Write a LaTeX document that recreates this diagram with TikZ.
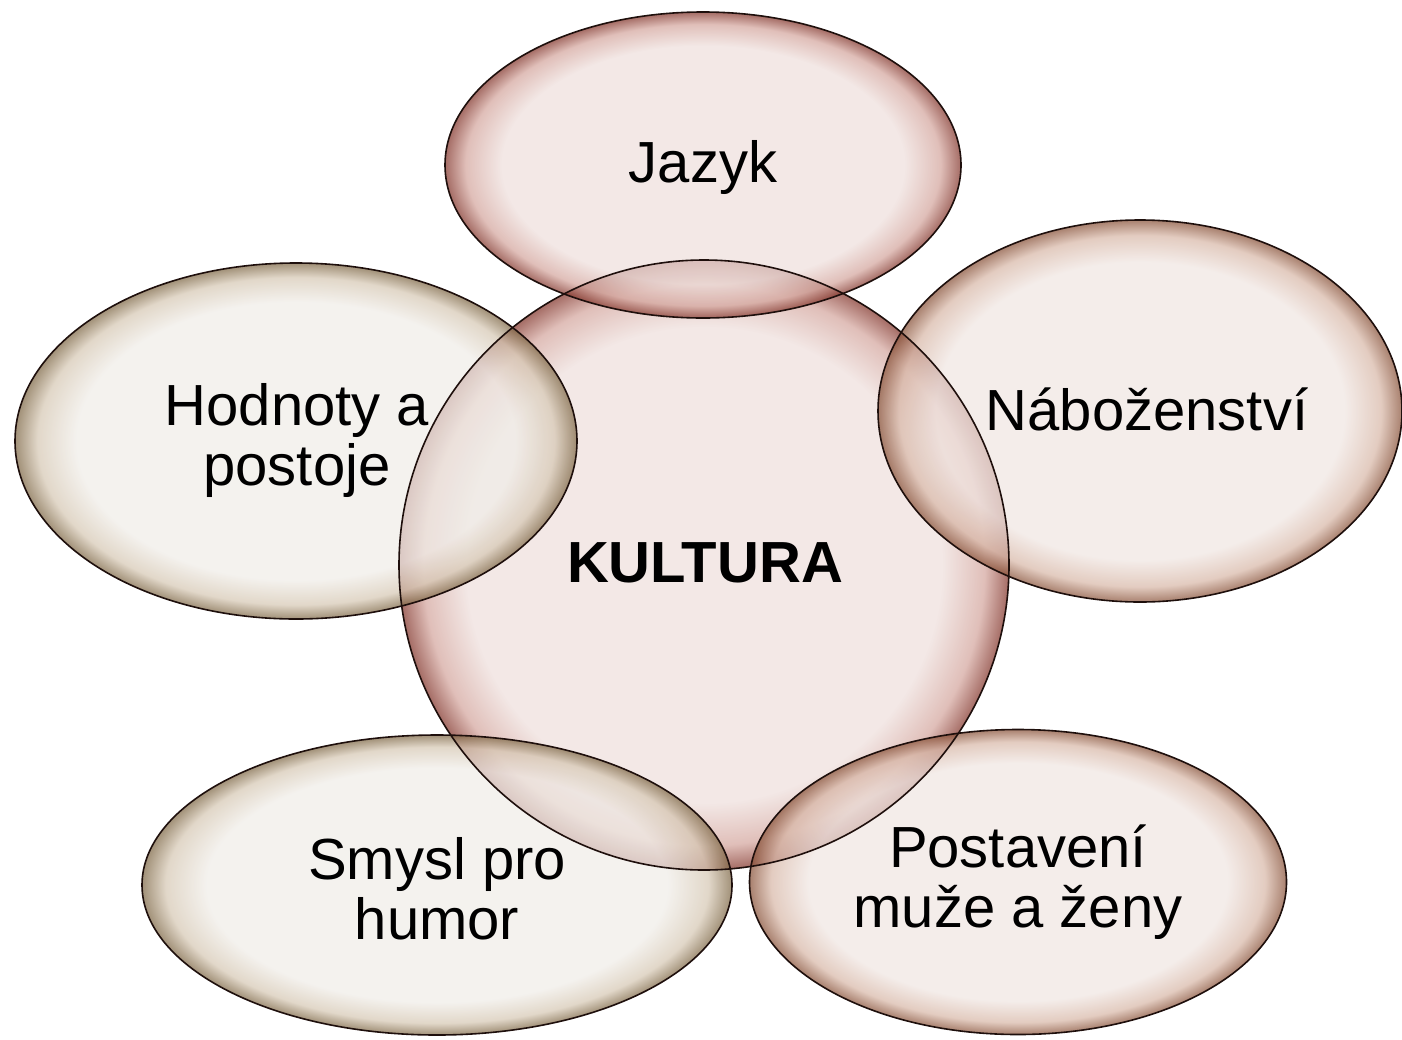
\documentclass[tikz,border=0pt]{standalone}
\usepackage{fontspec}
\setmainfont{Liberation Sans}
\usetikzlibrary{shapes.geometric}
\definecolor{redin}{RGB}{238,223,220}
\definecolor{redmid}{RGB}{212,166,158}
\definecolor{redrim}{RGB}{130,52,42}
\definecolor{tanin}{RGB}{240,230,226}
\definecolor{tanmid}{RGB}{216,184,168}
\definecolor{tanrim}{RGB}{135,80,55}
\definecolor{beigein}{RGB}{240,237,232}
\definecolor{beigemid}{RGB}{214,200,180}
\definecolor{beigerim}{RGB}{125,102,68}
\definecolor{edgeline}{RGB}{30,15,12}
\pgfdeclareradialshading{redglow}{\pgfpoint{0bp}{0bp}}{color(0bp)=(redin); color(19.5bp)=(redin); color(23bp)=(redmid); color(25bp)=(redrim); color(50bp)=(redrim)}
\pgfdeclareradialshading{tanglow}{\pgfpoint{0bp}{0bp}}{color(0bp)=(tanin); color(19.5bp)=(tanin); color(23bp)=(tanmid); color(25bp)=(tanrim); color(50bp)=(tanrim)}
\pgfdeclareradialshading{beigeglow}{\pgfpoint{0bp}{0bp}}{color(0bp)=(beigein); color(19.5bp)=(beigein); color(23bp)=(beigemid); color(25bp)=(beigerim); color(50bp)=(beigerim)}
\tikzset{
  blob/.style={ellipse, inner sep=0pt, fill opacity=0.72, shade},
  redblob/.style={blob, shading=redglow},
  tanblob/.style={blob, shading=tanglow},
  beigeblob/.style={blob, shading=beigeglow},
  rim/.style={ellipse, inner sep=0pt, draw=edgeline, line width=0.8pt},
  kultsize/.style={minimum width=305pt, minimum height=305pt},
  jazsize/.style={minimum width=258pt, minimum height=153pt},
  nabsize/.style={minimum width=262pt, minimum height=191pt},
  postsize/.style={minimum width=268.5pt, minimum height=152.5pt},
  smyslsize/.style={minimum width=295pt, minimum height=150pt},
  hodnsize/.style={minimum width=281pt, minimum height=178pt},
  lbl/.style={font=\fontsize{29}{30}\selectfont, align=center, text=black, inner sep=0pt},
}
\begin{document}
\begin{tikzpicture}[x=0.5pt,y=-0.5pt]
\useasboundingbox (0,0) rectangle (1402,1039);
% fills
\node[redblob, kultsize] (kultura) at (704,565) {};
\node[redblob, jazsize] (jazyk) at (703,165) {};
\node[tanblob, nabsize] (nab) at (1140,411) {};
\node[tanblob, postsize] (post) at (1018,882) {};
\node[beigeblob, smyslsize] (smysl) at (437,885) {};
\node[beigeblob, hodnsize] (hodn) at (296,441) {};
% outlines
\node[rim, kultsize] (kulturaE) at (kultura) {};
\node[rim, jazsize] (jazykE) at (jazyk) {};
\node[rim, nabsize] (nabE) at (nab) {};
\node[rim, postsize] (postE) at (post) {};
\node[rim, smyslsize] (smyslE) at (smysl) {};
\node[rim, hodnsize] (hodnE) at (hodn) {};
% labels
\node[lbl] (tjazyk) at (703,167) {Jazyk};
\node[lbl] (tnab) at (1147,409) {Náboženství};
\node[lbl] (thodn) at (297,440) {Hodnoty a\\postoje};
\node[lbl, font=\fontsize{29}{30}\selectfont\bfseries] (tkult) at (705,563) {KULTURA};
\node[lbl] (tsmysl) at (437,889) {Smysl pro\\humor};
\node[lbl] (tpost) at (1018,882) {Postavení\\muže a ženy};
\end{tikzpicture}
\end{document}
